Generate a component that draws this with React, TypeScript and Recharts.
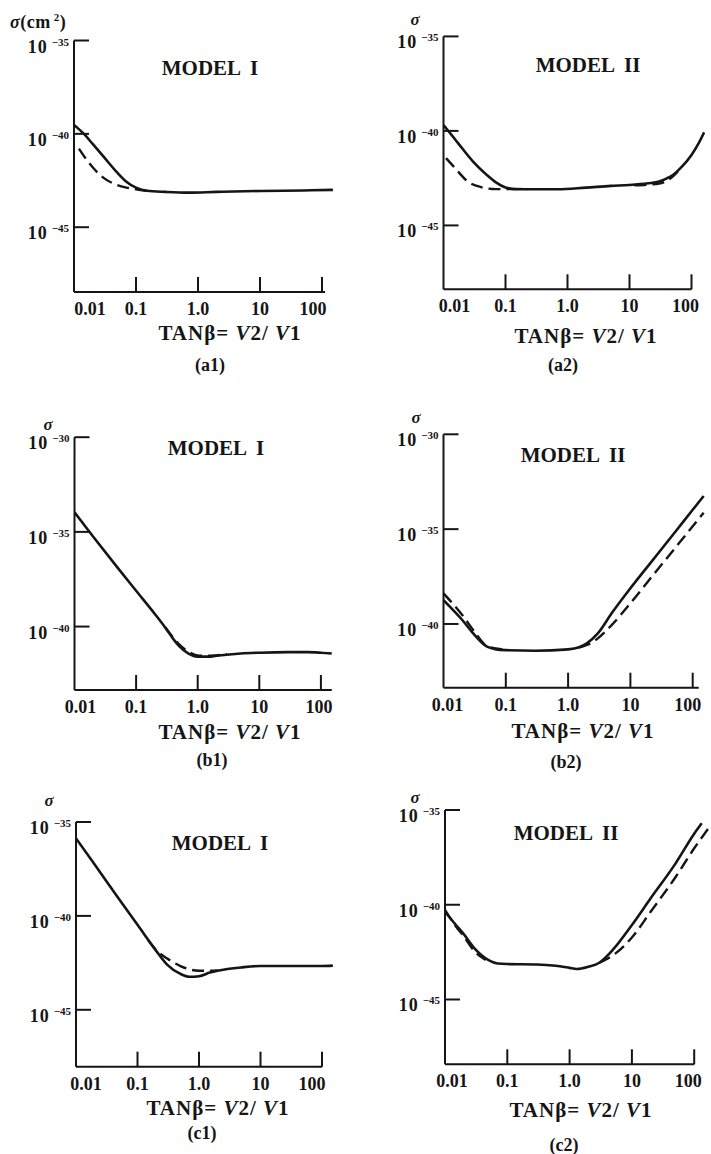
import { Line, LineChart, ReferenceLine, XAxis, YAxis } from "recharts";

const INK = "#151515";
const FONT = '"Liberation Serif", "Times New Roman", serif';
const Y_AXIS_W = 60;
const X_AXIS_H = 40;

// shared axes: tan(beta) on a log axis, sigma as its power of ten
const xTicks = [0.01, 0.1, 1, 10, 100];
const xTickLabels = ["0.01", "0.1", "1.0", "10", "100"];
const yTicksLow = [-35, -40, -45];
const yTicksHigh = [-30, -35, -40];

// (a1) model I
const a1Tan = [0.01, 0.015, 0.02, 0.03, 0.05, 0.07, 0.1, 0.15, 0.3, 0.7, 2, 10, 50, 150];
const a1Solid = [-39.52, -40.06, -40.54, -41.22, -42.08, -42.56, -42.88, -43.05, -43.11, -43.15, -43.11, -43.06, -43.03, -43.0];
const a1DashTan = [0.012, 0.016, 0.02, 0.03, 0.05, 0.07, 0.1, 0.15];
const a1Dashed = [-40.79, -41.39, -41.79, -42.36, -42.74, -42.88, -42.97, -43.05];

// (a2) model II
const a2Tan = [0.01, 0.015, 0.02, 0.03, 0.05, 0.07, 0.1, 0.15, 0.3, 0.7, 2, 5, 10, 20, 30, 40, 50, 70, 100, 130, 160];
const a2Solid = [-39.69, -40.4, -40.92, -41.62, -42.33, -42.72, -42.99, -43.08, -43.09, -43.09, -43.0, -42.91, -42.86, -42.77, -42.68, -42.51, -42.33, -41.89, -41.27, -40.66, -40.07];
const a2DashTan = [0.011, 0.015, 0.025, 0.04, 0.07, 0.15, 1, 12, 20, 30, 45, 60];
const a2Dashed = [-41.44, -41.93, -42.69, -42.97, -43.08, -43.08, null, -42.88, -42.84, -42.79, -42.53, -42.15];

// (b1) model I
const b1Tan = [0.01, 0.02, 0.05, 0.1, 0.2, 0.3, 0.4, 0.5, 0.7, 1, 1.5, 2, 5, 10, 30, 60, 100, 150];
const b1Solid = [-33.97, -35.24, -36.89, -38.11, -39.32, -40.07, -40.65, -41.03, -41.41, -41.59, -41.59, -41.54, -41.42, -41.38, -41.35, -41.35, -41.38, -41.42];
const b1DashTan = [0.3, 0.4, 0.5, 0.7, 1, 1.5, 2, 3];
const b1Dashed = [-40.04, -40.58, -40.94, -41.32, -41.52, -41.54, -41.52, -41.46];

// (b2) model II
const b2Tan = [0.01, 0.02, 0.03, 0.05, 0.07, 0.1, 0.3, 1, 1.5, 2, 3, 5, 10, 20, 50, 100, 150];
const b2Solid = [-38.74, -39.79, -40.5, -41.2, -41.34, -41.38, -41.41, -41.34, -41.23, -41.02, -40.5, -39.44, -38.12, -36.87, -35.23, -33.98, -33.25];
const b2DashTan = [0.01, 0.02, 0.03, 0.05, 0.07, 0.1, 0.5, 1.5, 2, 3, 5, 10, 20, 50, 100, 150];
const b2Dashed = [-38.39, -39.53, -40.32, -41.17, -41.29, -41.35, null, -41.25, -41.11, -40.76, -40.06, -38.91, -37.68, -36.07, -34.85, -34.13];

// (c1) model I
const c1Tan = [0.01, 0.02, 0.05, 0.1, 0.2, 0.3, 0.5, 0.7, 1, 1.5, 2, 5, 10, 30, 100, 150];
const c1Solid = [-35.87, -37.25, -39.1, -40.47, -41.85, -42.58, -43.09, -43.24, -43.21, -43.02, -42.92, -42.74, -42.67, -42.67, -42.67, -42.65];
const c1DashTan = [0.15, 0.2, 0.3, 0.5, 0.7, 1, 1.5, 2];
const c1Dashed = [-41.3, -41.81, -42.26, -42.67, -42.85, -42.92, -42.92, -42.9];

// (c2) model II
const c2Tan = [0.01, 0.015, 0.02, 0.03, 0.05, 0.07, 0.1, 0.3, 0.6, 1, 1.3, 2, 3, 5, 10, 20, 50, 100, 132];
const c2Solid = [-40.37, -41.07, -41.55, -42.31, -42.92, -43.1, -43.13, -43.15, -43.22, -43.33, -43.39, -43.27, -43.06, -42.36, -41.07, -39.66, -37.83, -36.25, -35.7];
const c2DashTan = [0.01, 0.015, 0.02, 0.03, 0.045, 0.2, 3, 5, 10, 20, 50, 100, 180];
const c2Dashed = [-40.27, -41.15, -41.67, -42.47, -42.91, null, -43.06, -42.66, -41.73, -40.37, -38.55, -37.02, -35.85];

type Pt = { t: number; s: number | null };

const pts = (tan: number[], sig: (number | null)[]): Pt[] =>
  tan.map((t, i) => ({ t, s: sig[i] }));

type Panel = {
  id: string;
  roman: string;
  box: [number, number, number, number];
  left: number;
  top: number;
  bottom: number;
  perDecade: number;
  xMax: number;
  axisEnd: number;
  yTop: number;
  yMin: number;
  yTicks: number[];
  solid: Pt[];
  dashed: Pt[];
  edgeDx: [number, number];
  sigma: [number, number];
  unit: boolean;
  title: [number, number];
  xLabel: [number, number];
  caption: [number, number];
};

const panels: Panel[] = [
  {
    id: "a1", roman: "I", box: [0, 0, 355, 390],
    left: 74, top: 40.5, bottom: 292, perDecade: 62, xMax: 160, axisEnd: 112,
    yTop: -35, yMin: -48.47, yTicks: yTicksLow,
    solid: pts(a1Tan, a1Solid), dashed: pts(a1DashTan, a1Dashed), edgeDx: [16, -9],
    sigma: [10, 28], unit: true, title: [210, 75], xLabel: [230, 340], caption: [210, 371],
  },
  {
    id: "a2", roman: "II", box: [355, 0, 356, 390],
    left: 443.5, top: 36.4, bottom: 289.3, perDecade: 62, xMax: 165, axisEnd: 100,
    yTop: -35, yMin: -48.38, yTicks: yTicksLow,
    solid: pts(a2Tan, a2Solid), dashed: pts(a2DashTan, a2Dashed), edgeDx: [11, -6],
    sigma: [415, 25], unit: false, title: [588, 72], xLabel: [586, 343], caption: [563, 371],
  },
  {
    id: "b1", roman: "I", box: [0, 390, 355, 390],
    left: 74.5, top: 437.2, bottom: 690, perDecade: 61.6, xMax: 160, axisEnd: 150,
    yTop: -30, yMin: -43.35, yTicks: yTicksHigh,
    solid: pts(b1Tan, b1Solid), dashed: pts(b1DashTan, b1Dashed), edgeDx: [6, -2],
    sigma: [48, 430], unit: false, title: [216, 455], xLabel: [230, 739], caption: [212, 766],
  },
  {
    id: "b2", roman: "II", box: [355, 390, 356, 390],
    left: 443.5, top: 434.3, bottom: 687.7, perDecade: 62.3, xMax: 160, axisEnd: 125,
    yTop: -30, yMin: -43.36, yTicks: yTicksHigh,
    solid: pts(b2Tan, b2Solid), dashed: pts(b2DashTan, b2Dashed), edgeDx: [4, -5],
    sigma: [416, 423], unit: false, title: [573, 462], xLabel: [583, 738], caption: [566, 768],
  },
  {
    id: "c1", roman: "I", box: [0, 780, 355, 374],
    left: 76, top: 822, bottom: 1066.7, perDecade: 61.5, xMax: 160, axisEnd: 100,
    yTop: -35, yMin: -48.03, yTicks: yTicksLow,
    solid: pts(c1Tan, c1Solid), dashed: pts(c1DashTan, c1Dashed), edgeDx: [10, -10],
    sigma: [49, 806], unit: false, title: [220, 850], xLabel: [218, 1115], caption: [202, 1139],
  },
  {
    id: "c2", roman: "II", box: [355, 780, 356, 374],
    left: 445, top: 810, bottom: 1064.3, perDecade: 62.3, xMax: 186, axisEnd: 100,
    yTop: -35, yMin: -48.42, yTicks: yTicksLow,
    solid: pts(c2Tan, c2Solid), dashed: pts(c2DashTan, c2Dashed), edgeDx: [7, -6],
    sigma: [415, 803], unit: false, title: [566, 840], xLabel: [581, 1117], caption: [564, 1151],
  },
];

function XTick(props: any) {
  const { x, y, payload, edgeDx } = props;
  const i = xTicks.findIndex(
    (v) => Math.abs(Math.log10(v) - Math.log10(payload.value)) < 0.01,
  );
  const dx = i === 0 ? edgeDx[0] : i === xTicks.length - 1 ? edgeDx[1] : 0;
  return (
    <g>
      {i > 0 && (
        <line x1={x} x2={x} y1={y} y2={y - 15} stroke={INK} strokeWidth={2} />
      )}
      <text
        x={x + dx}
        y={y + 23}
        textAnchor="middle"
        fontFamily={FONT}
        fontWeight="bold"
        fontSize={18}
        fill={INK}
      >
        {xTickLabels[i]}
      </text>
    </g>
  );
}

function YTick(props: any) {
  const { x, y, payload } = props;
  return (
    <g>
      <line x1={x} x2={x + 15} y1={y} y2={y} stroke={INK} strokeWidth={2} />
      <text
        x={x - 5}
        y={y + 12}
        textAnchor="end"
        fontFamily={FONT}
        fontWeight="bold"
        fill={INK}
      >
        <tspan fontSize={18} letterSpacing={1}>10</tspan>
        <tspan fontSize={11} dx={4} dy={-7}>
          {`−${Math.abs(payload.value)}`}
        </tspan>
      </text>
    </g>
  );
}

function PanelChart({ p }: { p: Panel }) {
  const [bx, by, bw, bh] = p.box;
  const plotW = (Math.log10(p.xMax) + 2) * p.perDecade;
  const margin = {
    left: p.left - bx - Y_AXIS_W,
    top: p.top - by,
    right: bx + bw - (p.left + plotW),
    bottom: by + bh - p.bottom - X_AXIS_H,
  };

  return (
    <div style={{ position: "absolute", left: bx, top: by }}>
      <LineChart width={bw} height={bh} margin={margin}>
        <XAxis
          dataKey="t"
          type="number"
          scale="log"
          domain={[0.01, p.xMax]}
          allowDataOverflow
          ticks={xTicks}
          interval={0}
          height={X_AXIS_H}
          tickSize={0}
          tickMargin={0}
          axisLine={false}
          tickLine={false}
          tick={<XTick edgeDx={p.edgeDx} />}
        />
        <YAxis
          type="number"
          domain={[p.yMin, p.yTop]}
          allowDataOverflow
          ticks={p.yTicks}
          interval={0}
          width={Y_AXIS_W}
          tickSize={0}
          tickMargin={0}
          axisLine={{ stroke: INK, strokeWidth: 2 }}
          tickLine={false}
          tick={<YTick />}
        />
        <ReferenceLine
          segment={[
            { x: 0.01, y: p.yMin },
            { x: p.axisEnd, y: p.yMin },
          ]}
          stroke={INK}
          strokeWidth={2}
          ifOverflow="visible"
        />
        <Line
          data={p.dashed}
          dataKey="s"
          type="monotone"
          stroke={INK}
          strokeWidth={2.4}
          strokeDasharray="12 6"
          dot={false}
          activeDot={false}
          isAnimationActive={false}
        />
        <Line
          data={p.solid}
          dataKey="s"
          type="monotone"
          stroke={INK}
          strokeWidth={2.6}
          dot={false}
          activeDot={false}
          isAnimationActive={false}
        />
      </LineChart>
    </div>
  );
}

function PanelText({ p }: { p: Panel }) {
  return (
    <g fontFamily={FONT} fontWeight="bold" fill={INK}>
      {p.unit ? (
        <text x={p.sigma[0]} y={p.sigma[1]} fontSize={18} letterSpacing={0.5}>
          <tspan fontStyle="italic">σ</tspan>
          <tspan>(cm</tspan>
          <tspan fontSize={11} dx={3} dy={-7}>2</tspan>
          <tspan dy={7}>)</tspan>
        </text>
      ) : (
        <text
          x={p.sigma[0]}
          y={p.sigma[1]}
          textAnchor="middle"
          fontSize={17}
          fontStyle="italic"
        >
          σ
        </text>
      )}
      <text x={p.title[0]} y={p.title[1]} textAnchor="middle" fontSize={21}>
        MODEL<tspan dx={9}>{p.roman}</tspan>
      </text>
      <text
        x={p.xLabel[0]}
        y={p.xLabel[1]}
        textAnchor="middle"
        fontSize={21}
        letterSpacing={1}
      >
        TANβ= <tspan fontStyle="italic">V</tspan>2/ <tspan fontStyle="italic">V</tspan>1
      </text>
      <text x={p.caption[0]} y={p.caption[1]} textAnchor="middle" fontSize={18}>
        ({p.id})
      </text>
    </g>
  );
}

export default function App() {
  return (
    <div
      style={{
        position: "absolute",
        left: 0,
        top: 0,
        width: 711,
        height: 1154,
        background: "#ffffff",
        overflow: "hidden",
      }}
    >
      {panels.map((p) => (
        <PanelChart key={p.id} p={p} />
      ))}
      <svg
        width={711}
        height={1154}
        style={{ position: "absolute", left: 0, top: 0, pointerEvents: "none" }}
      >
        {panels.map((p) => (
          <PanelText key={p.id} p={p} />
        ))}
      </svg>
    </div>
  );
}
